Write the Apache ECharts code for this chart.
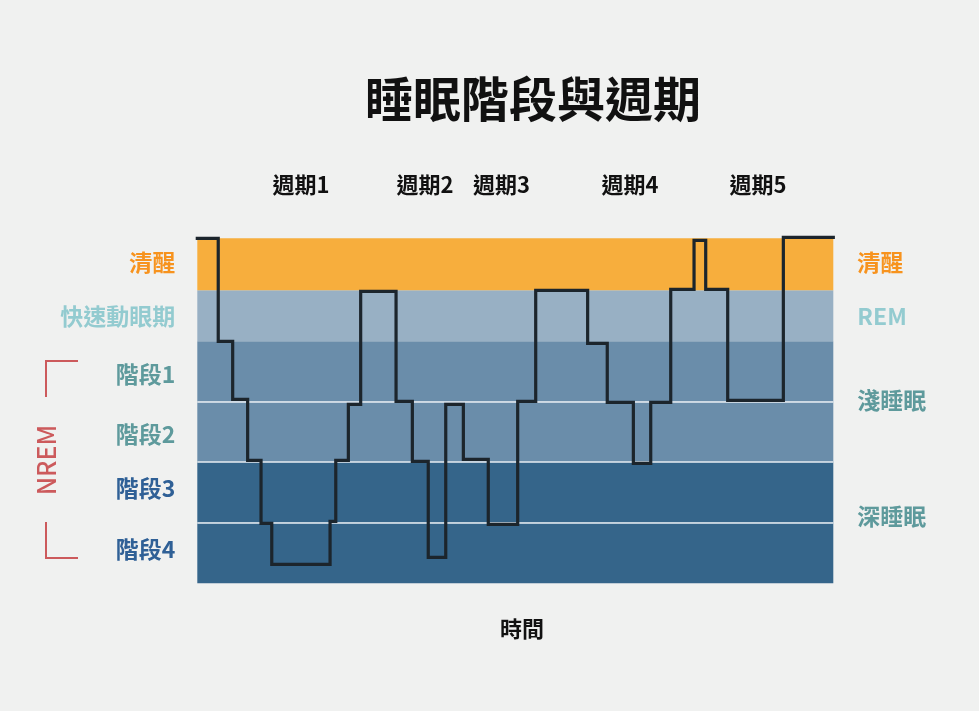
<!DOCTYPE html>
<html><head><meta charset="utf-8">
<script src="https://cdn.jsdelivr.net/npm/echarts@6/dist/echarts.min.js"></script>
<style>html,body{margin:0;padding:0;background:#f0f1f0;}#c{width:979px;height:711px;}</style>
</head><body><div id="c"></div>
<script>
// Time in minutes at which each segment starts, and the depth level held during that segment
var segStart = [0, 15.8, 26.7, 38.0, 48.1, 56.2, 100.2, 104.5, 114.0, 123.3, 150.0, 162.3, 174.3, 187.5, 200.8, 219.6, 241.8, 255.4, 294.6, 309.4, 329.1, 342.2, 357.3, 374.9, 383.7, 400.3, 442.3, 480];
var segLevel = [345, 242, 184, 123, 60, 19, 62, 123, 179, 292, 182, 122, 26, 179, 124, 59, 182, 293, 240, 181, 120, 181, 294, 343, 294, 183, 346, 346];
// Band boundaries on the depth scale (bottom to top): 階段4, 階段3, 階段2, 階段1, REM, 清醒
var bandEdges = [0, 61, 122, 182, 242, 293, 345];
var bandColors = ['#35658a', '#35658a', '#6a8daa', '#6a8daa', '#98b0c4', '#f7ae3d'];
var separatorLevels = [61, 122, 182];
// Left axis labels
var leftLabels = ['階段4', '階段3', '階段2', '階段1', '快速動眼期', '清醒'];
var leftLabelPos = [34, 95, 149, 209, 267, 321];
var leftLabelStyle = ['deep', 'deep', 'light', 'light', 'rem', 'wake'];
// Right axis labels
var rightLabels = ['深睡眠', '淺睡眠', 'REM', '清醒'];
var rightLabelPos = [67, 183, 267, 321];
var rightLabelStyle = ['light', 'light', 'rem', 'wake'];
// Cycle labels (top)
var cycleNames = ['週期1', '週期2', '週期3', '週期4', '週期5'];
var cyclePos = [78.3, 171.9, 229.6, 326.6, 423.2];

var FONT = "'Noto Sans CJK TC','Noto Sans CJK SC',sans-serif";
var rich = {
  wake: {color: '#f7931e', fontSize: 23, fontWeight: 'bold', fontFamily: FONT},
  rem: {color: '#93cbd0', fontSize: 23, fontWeight: 'bold', fontFamily: FONT},
  light: {color: '#5e9a9c', fontSize: 23, fontWeight: 'bold', fontFamily: FONT},
  deep: {color: '#2f6096', fontSize: 23, fontWeight: 'bold', fontFamily: FONT}
};
function labelFor(vals, names, styles) {
  return function (v) {
    for (var i = 0; i < vals.length; i++) {
      if (Math.abs(vals[i] - v) < 0.01) return '{' + styles[i] + '|' + names[i] + '}';
    }
    return '';
  };
}
function cycleLabel(v) {
  for (var i = 0; i < cyclePos.length; i++) if (Math.abs(cyclePos[i] - v) < 0.01) return cycleNames[i];
  return '';
}

var lineData = segStart.map(function (t, i) { return [t, segLevel[i]]; });
var areas = [];
for (var i = 0; i < bandColors.length; i++) {
  areas.push([{yAxis: bandEdges[i], itemStyle: {color: bandColors[i]}}, {yAxis: bandEdges[i + 1]}]);
}
var seps = separatorLevels.map(function (v) { return {yAxis: v}; });

var chart = echarts.init(document.getElementById('c'));
chart.setOption({
  backgroundColor: '#f0f1f0',
  animation: false,
  grid: {left: 197.3, top: 238.3, width: 636, height: 345},
  xAxis: [
    {type: 'value', min: 0, max: 480, show: false},
    {type: 'value', min: 0, max: 480, position: 'top', axisLine: {show: false}, axisTick: {show: false}, splitLine: {show: false},
      axisLabel: {customValues: cyclePos, formatter: cycleLabel, margin: 43, color: '#111', fontSize: 22, fontWeight: 'bold', fontFamily: FONT}}
  ],
  yAxis: [
    {type: 'value', min: 0, max: 345, position: 'left', axisLine: {show: false}, axisTick: {show: false}, splitLine: {show: false},
      axisLabel: {customValues: leftLabelPos, formatter: labelFor(leftLabelPos, leftLabels, leftLabelStyle), margin: 22, rich: rich}},
    {type: 'value', min: 0, max: 345, position: 'right', axisLine: {show: false}, axisTick: {show: false}, splitLine: {show: false},
      axisLabel: {customValues: rightLabelPos, formatter: labelFor(rightLabelPos, rightLabels, rightLabelStyle), margin: 24, rich: rich}}
  ],
  series: [
    {type: 'line', data: [], z: 1, silent: true,
      markArea: {silent: true, data: areas},
      markLine: {silent: true, symbol: 'none', label: {show: false}, lineStyle: {color: '#e8eef3', width: 1.5, type: 'solid'}, data: seps}},
    {type: 'line', step: 'end', data: lineData, z: 5, clip: false, showSymbol: false, symbol: 'none',
      lineStyle: {color: '#1c252c', width: 3.2, join: 'miter', cap: 'square'}}
  ],
  graphic: [
    {type: 'text', x: 533, y: 99, style: {text: '睡眠階段與週期', font: 'bold 48px ' + FONT, fill: '#111', textAlign: 'center', textVerticalAlign: 'middle'}},
    {type: 'text', x: 522, y: 629, style: {text: '時間', font: 'bold 22px ' + FONT, fill: '#111', textAlign: 'center', textVerticalAlign: 'middle'}},
    {type: 'text', x: 46, y: 460, rotation: Math.PI / 2, style: {text: 'NREM', font: '500 25px ' + FONT, fill: '#cc5a5c', textAlign: 'center', textVerticalAlign: 'middle'}},
    {type: 'polyline', shape: {points: [[78, 361], [46, 361], [46, 397]]}, style: {stroke: '#cc5a5c', lineWidth: 2, fill: null}},
    {type: 'polyline', shape: {points: [[46, 522], [46, 558], [78, 558]]}, style: {stroke: '#cc5a5c', lineWidth: 2, fill: null}}
  ]
});
</script></body></html>
